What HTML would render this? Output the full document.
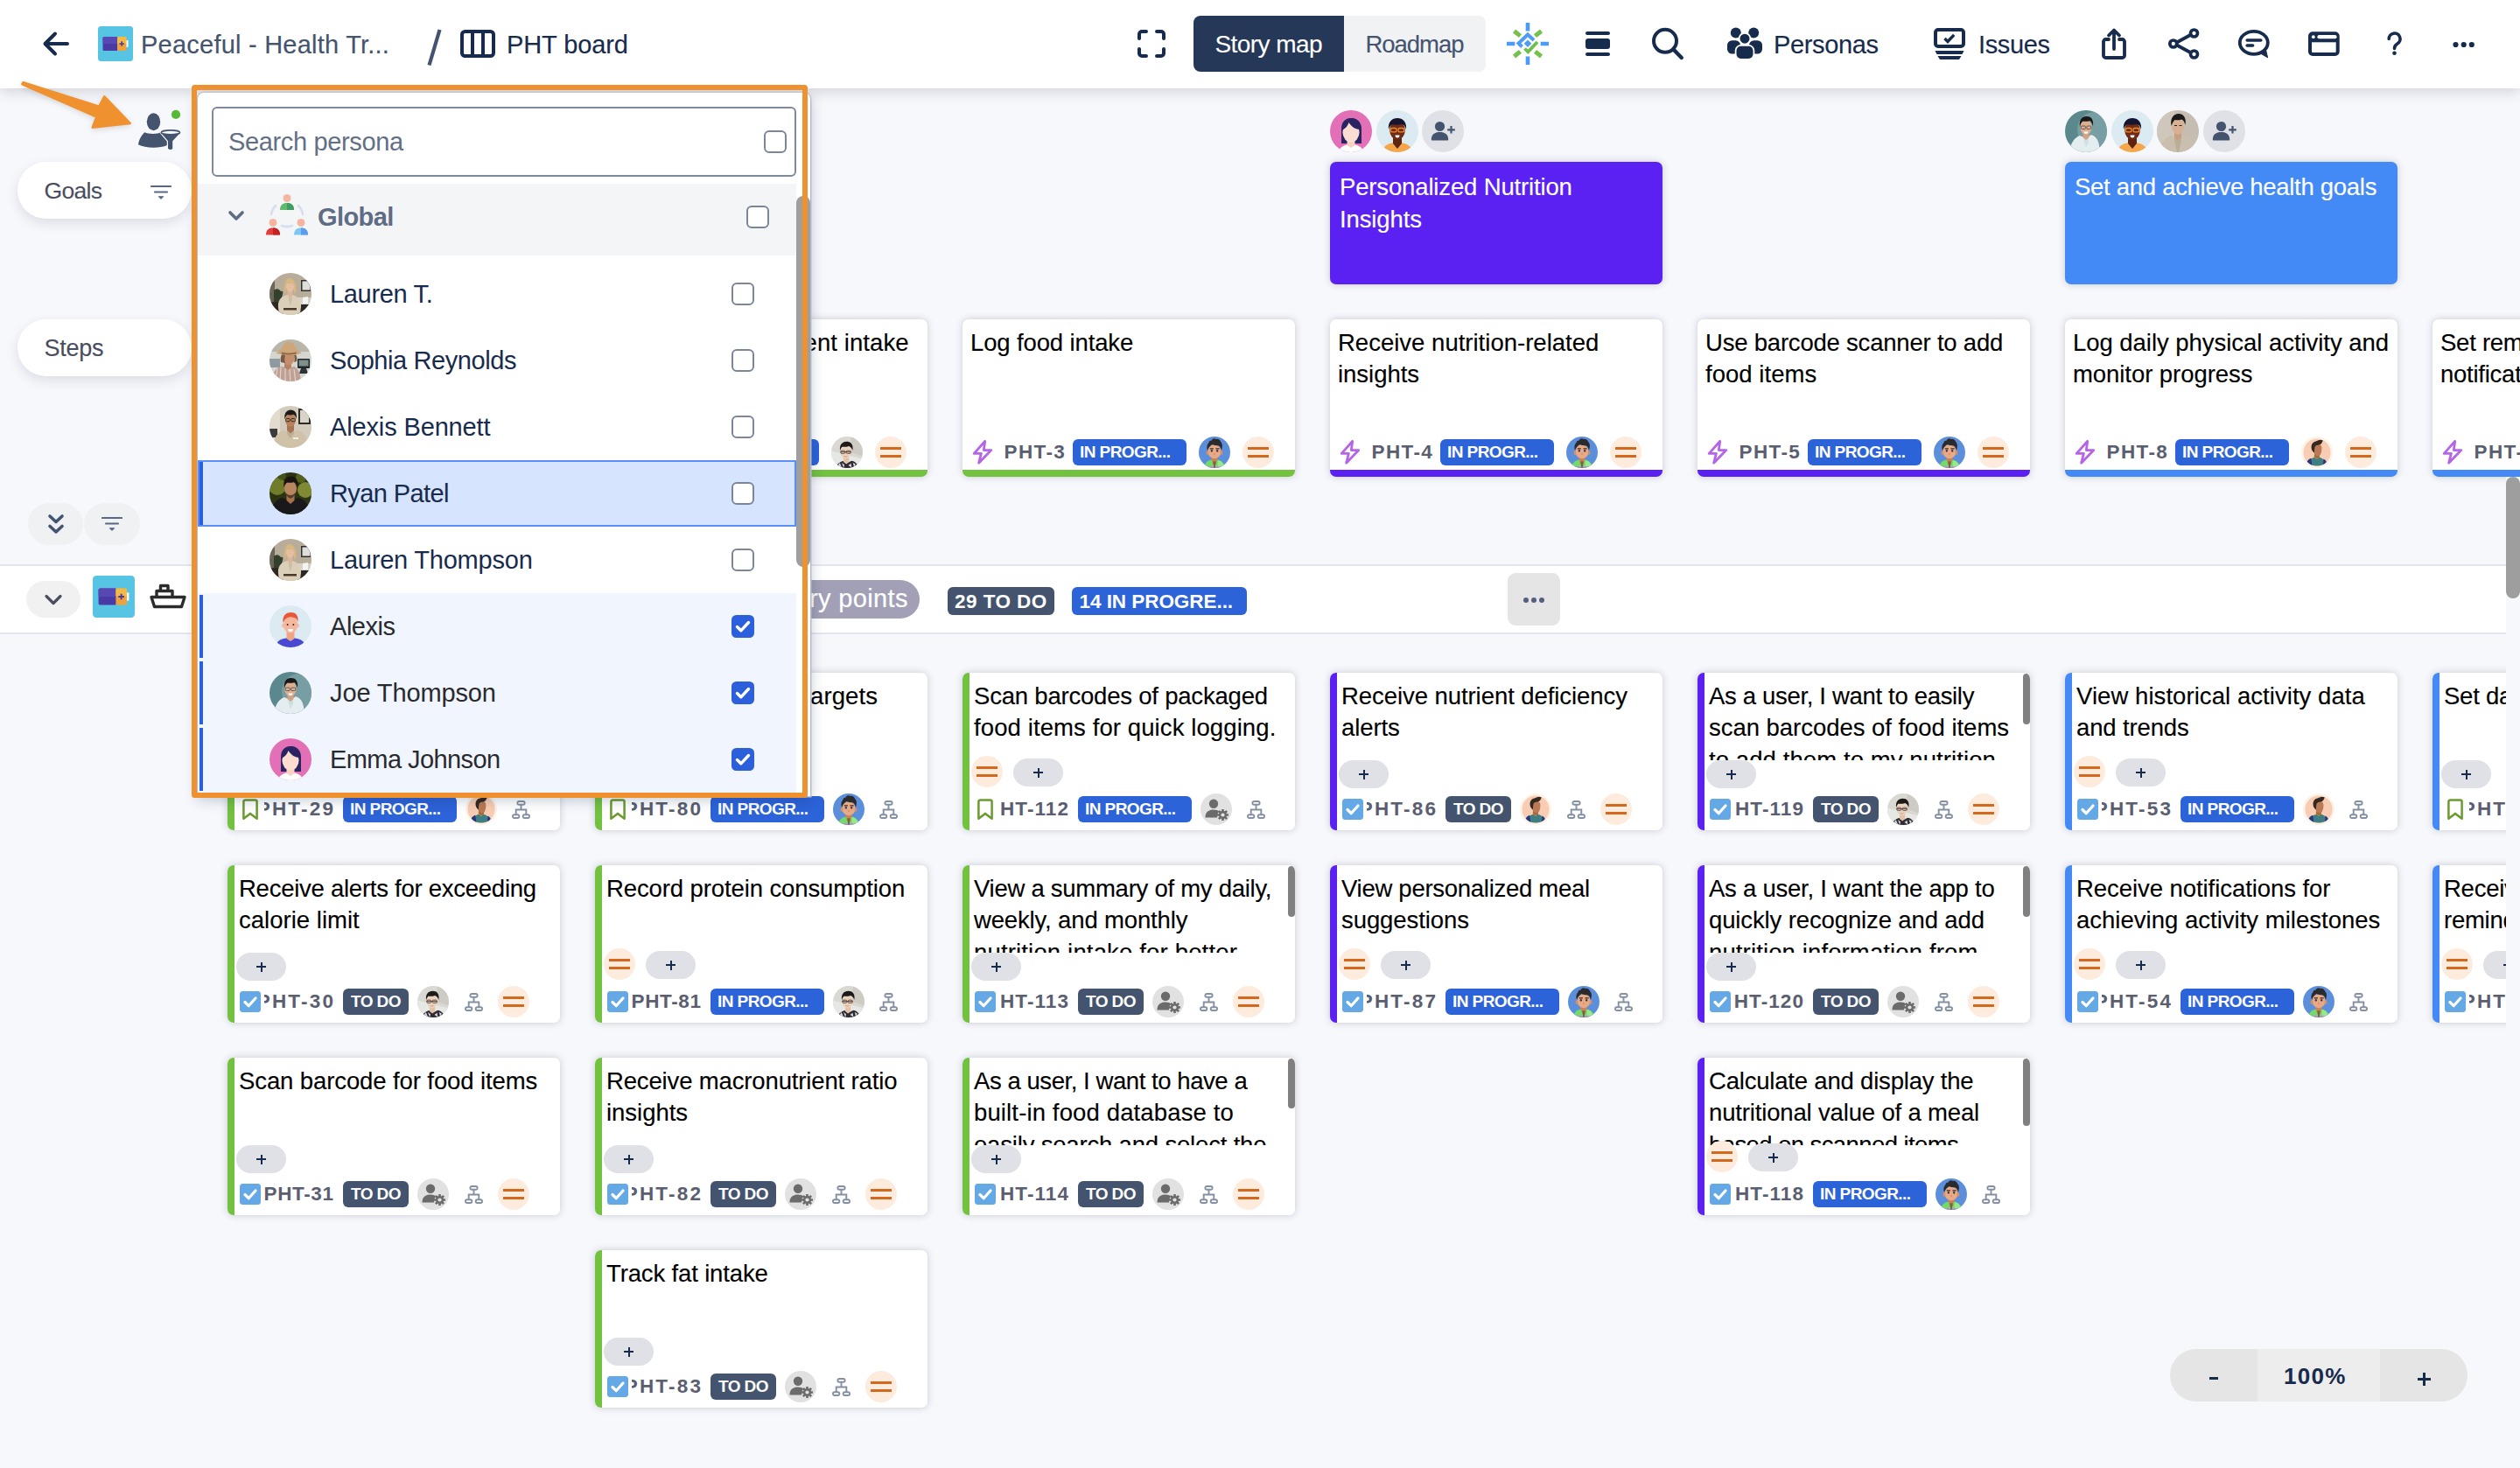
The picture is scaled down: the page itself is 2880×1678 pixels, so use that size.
<!DOCTYPE html>
<html lang="en"><head><meta charset="utf-8"><title>PHT board - Story map</title>
<style>
html,body{margin:0;padding:0}
body{width:2880px;height:1678px;overflow:hidden;position:relative;background:#F7F8FC;font-family:"Liberation Sans",sans-serif;color:#000}
.a{position:absolute}
.t{position:absolute;white-space:nowrap;line-height:1}
#hdr{position:absolute;left:0;top:0;width:2880px;height:101px;background:#fff;box-shadow:0 5px 14px rgba(20,20,40,.14)}
.card{position:absolute;width:380px;height:180px;background:#fff;border-radius:7px;box-shadow:0 0 8px rgba(35,35,60,.22);overflow:hidden}
.ctext{position:absolute;left:0;top:0;right:0;height:100px;overflow:hidden}
.ctext p{margin:0;position:absolute;top:10.5px;font-size:27.5px;line-height:36.7px;white-space:nowrap;color:#000;-webkit-text-stroke:.12px}
.bar-l{position:absolute;left:0;top:0;width:8px;height:100%}
.bar-b{position:absolute;left:0;bottom:0;height:8px;width:100%}
.key{position:absolute;overflow:hidden;height:30px}
.key span{position:absolute;right:0;top:2.2px;font-weight:700;font-size:22.5px;line-height:26px;color:#5A5E70;white-space:nowrap}
.badge{position:absolute;height:30px;border-radius:6px;color:#fff;font-weight:700;font-size:19px;line-height:30px;white-space:nowrap;overflow:hidden}
.todo{background:#44546F;width:75px}
.prog{background:#2D63D9;width:130px}
.pill{position:absolute;width:57px;height:32px;border-radius:16px;background:#DFE1E6}
.pill:before{content:"";position:absolute;left:23px;top:15px;width:11px;height:2px;background:#172B4D}
.pill:after{content:"";position:absolute;left:27.5px;top:10.5px;width:2px;height:11px;background:#172B4D}
.prio{position:absolute;width:36px;height:36px;border-radius:18px;background:#FDECDD}
.prio:before,.prio:after{content:"";position:absolute;left:6px;width:24px;height:3px;background:#D4691E}
.prio:before{top:12px}.prio:after{top:21px}
.thumb{position:absolute;right:0;top:1px;width:8px;border-radius:4px;background:#808080}
.av{position:absolute;border-radius:50%;overflow:hidden}
.cb{position:absolute;width:22px;height:22px;border:2px solid #7A869A;border-radius:6px;background:#fff}
.cbx{position:absolute;width:26px;height:26px;border-radius:6px;background:#2D63D9}
.row{position:absolute;left:225px;width:685px;height:76px}
.nm{position:absolute;left:152px;top:22px;font-size:28px;line-height:32px;white-space:nowrap}
</style></head>
<body>
<svg width="0" height="0" style="position:absolute"><defs>
<clipPath id="c48"><circle cx="24" cy="24" r="24"/></clipPath>
<!-- assignee avatars (48 box, scaled) -->
<symbol id="avA" viewBox="0 0 48 48"><g clip-path="url(#c48)"><rect width="48" height="48" fill="#D9D8D3"/><path d="M0 22l48 12v14H0z" fill="#E6E8E5"/><path d="M30 0h18v30L30 24z" fill="#C9C6BE" opacity=".7"/>
<path d="M6 48c3-7 8-10 14-11l5 3 6-3c5 1 9 4 11 11z" fill="#2E2B33"/><path d="M9 46l4-6 3 7zM16 40l4 3-1 5zM33 40l4 2-2 5zM26 44l4-3 1 6z" fill="#DCD9E2"/>
<path d="M18.500 31h8.500v7.500l-4 3.500-4.500-3.500z" fill="#E3C3A8"/><ellipse cx="22" cy="23.500" rx="8" ry="10" fill="#EBD2BC"/><ellipse cx="30.300" cy="24.500" rx="1.600" ry="2.600" fill="#E3C3A8"/>
<path d="M13.500 21.500c-1.500-9 3-14 10-14 6 0 10.500 4 9 13.500-1.500-3.500-3-5.500-5.500-6.500-4 1.500-8 1.500-10.500 1-1.500 1.500-2.500 3.500-3 6z" fill="#1D1A19"/>
<path d="M14 23.500h16" stroke="#5A4A44" stroke-width="1.300"/><rect x="14.500" y="21.500" width="6.500" height="4.300" rx="1.400" fill="none" stroke="#4A3D39" stroke-width="1.100"/><rect x="23" y="21.500" width="6.500" height="4.300" rx="1.400" fill="none" stroke="#4A3D39" stroke-width="1.100"/><path d="M19.500 30c1.500 1 3.500 1 5 0" stroke="#C98F80" stroke-width="1.200" fill="none"/></g></symbol>
<symbol id="avB" viewBox="0 0 48 48"><g clip-path="url(#c48)"><rect width="48" height="48" fill="#5C8FDB"/><path d="M8 52c0-11 4-17 16-17s16 6 16 17z" fill="#72DA68"/><path d="M29 36c5 1 9 4 10 12H29z" fill="#A6EE9A" opacity=".7"/><path d="M13 45.500h22v4H13z" fill="#C77BE6"/><path d="M21 34l3 2.500 3-2.500v6l-3 8-3-8z" fill="#B56A48"/><path d="M23.300 36h1.400v12h-1.400z" fill="#2F6B3A"/>
<path d="M19 29h10v7l-5 2-5-2z" fill="#C9825C"/><ellipse cx="24" cy="23" rx="10.300" ry="10.600" fill="#E7AA84"/><ellipse cx="13.300" cy="24.500" rx="1.900" ry="3" fill="#D98F66"/><ellipse cx="34.700" cy="24.500" rx="1.900" ry="3" fill="#D98F66"/>
<path d="M13.500 21c-2-4-1-9 2-12 0-2 2-3 4-3 1-3 5-4 7-2 3-1 6 1 7 4 3 3 3 8 1 13-1-4-2-6-4-7-4 0-8-1-10-2-3 2-6 5-7 9z" fill="#2B2A2D"/>
<path d="M17 18.500h5.500M26 18.500h5.500" stroke="#3A2A25" stroke-width="1.500"/><ellipse cx="19.800" cy="21.800" rx="1.500" ry="1.800" fill="#3B3440"/><ellipse cx="28.200" cy="21.800" rx="1.500" ry="1.800" fill="#3B3440"/><ellipse cx="24" cy="26.500" rx="1.500" ry="1" fill="#D98270"/></g></symbol>
<symbol id="avC" viewBox="0 0 48 48"><circle cx="24" cy="24" r="24" fill="#FDF3E8"/><circle cx="24" cy="24" r="20.800" fill="#F8CDB3"/><clipPath id="c48c"><circle cx="24" cy="24" r="20.800"/></clipPath><g clip-path="url(#c48c)">
<path d="M8 50c0-12 6-18 16-19 10 1 15 7 15 19z" fill="#3F7F84"/><path d="M7 48c0-9 3-13 8-15l2 15zM40 48c0-8-2-12-6-14l-1 14z" fill="#2A3580"/><path d="M18.500 29.500l5.500 5 4.500-5-2.500-1.500h-5z" fill="#E8B52E"/>
<path d="M20 24h8v7l-4 3-4-3z" fill="#A9693F"/><path d="M19 12c5-2 11-1 12 4 .5 3 0 6-.5 8l-1.500 4c-2 2-6 2-8 0-3-3-4-12-2-16z" fill="#B97A55"/>
<path d="M16 20c-2-7 1-12 7-13 3-1 6-3 10-1-1 3-2 5-4 6-3 1-6 1-8 3-1 3-1 6-1 9-2 0-3-2-4-4z" fill="#352820"/></g></symbol>
<symbol id="avD" viewBox="0 0 36 36"><circle cx="18" cy="18" r="18" fill="#E1E1E1"/><circle cx="15" cy="11.800" r="5.200" fill="#6B6B6B"/><path d="M5.500 27.500c0-6.500 4-9 9.500-9 3 0 5 .8 6.500 2.200-2 1.500-2.800 3.800-2.300 6.800z" fill="#6B6B6B"/><g fill="#6B6B6B"><circle cx="25.500" cy="24.500" r="4.600"/><g stroke="#6B6B6B" stroke-width="2.600" stroke-linecap="butt"><path d="M25.500 18v13M19 24.500h13M20.900 19.900l9.200 9.200M30.100 19.900l-9.200 9.200"/></g></g><circle cx="25.500" cy="24.500" r="2.100" fill="#E1E1E1"/></symbol>
<!-- persona avatars -->
<symbol id="pEmma" viewBox="0 0 48 48"><g clip-path="url(#c48)"><rect width="48" height="48" fill="#E36FB6"/><path d="M13 38V21c0-8 5-12 11-12s12 4 12 12v17z" fill="#2A2462"/><path d="M9 52c0-9 6-13 15-13s15 4 15 13z" fill="#fff"/><path d="M19.500 33h9v7l-4.500 3-4.500-3z" fill="#F7D2C4"/><ellipse cx="24" cy="25" rx="9.600" ry="11.500" fill="#FBDDD1"/><path d="M13.500 23c0-9 5-14 11-14 7 0 11 5 10 13-5 0-10-3-13-8-1 4-4 7-8 9z" fill="#2A2462"/></g></symbol>
<symbol id="pGls" viewBox="0 0 48 48"><g clip-path="url(#c48)"><rect width="48" height="48" fill="#DCEAF1"/><path d="M6 52c0-11 7-15 18-15s18 4 18 15z" fill="#F5A64A"/><path d="M19 31h10v7l-5 6-5-6z" fill="#5E2412"/><ellipse cx="24" cy="23" rx="8.800" ry="10.500" fill="#6E2C16"/><path d="M14 22c-1-9 4-13 10-13s11 4 10 13c-1-4-3-6-5-6-4 1-8 1-10 0-3 1-4 3-5 6z" fill="#15152F"/><rect x="16.500" y="20.500" width="6.500" height="4.300" rx="1.300" fill="none" stroke="#F08A2A" stroke-width="1.300"/><rect x="25" y="20.500" width="6.500" height="4.300" rx="1.300" fill="none" stroke="#F08A2A" stroke-width="1.300"/><path d="M21.500 28.500h5c0 2-1 3-2.500 3s-2.500-1-2.500-3z" fill="#fff"/></g></symbol>
<symbol id="pAdd" viewBox="0 0 48 48"><circle cx="24" cy="24" r="24" fill="#DFE1E6"/><circle cx="20.500" cy="18.500" r="5.600" fill="#44546F"/><path d="M10.800 33.500c0-6 4-8.600 9.700-8.600s9.700 2.600 9.700 8.600c0 .6-.4 1-1 1H11.800c-.6 0-1-.4-1-1z" fill="#44546F"/><path d="M33.500 18v8.600M29.200 22.300h8.600" stroke="#44546F" stroke-width="2.200"/></symbol>
<symbol id="pJoe" viewBox="0 0 48 48"><g clip-path="url(#c48)"><rect width="48" height="48" fill="#5B888C"/><circle cx="34" cy="22" r="20" fill="#8AAEB1" opacity=".6"/><path d="M5 52c0-14 6-21 12-23l7 3 6-4c7 2 10 9 10 24z" fill="#E4EEF0"/><path d="M21 29l3 3 3-3.500v8l-3 6-2-6z" fill="#CFE0E4"/><path d="M20.500 25h7v6l-3.500 3-3.500-3z" fill="#D3A183"/><ellipse cx="24" cy="19.500" rx="6.600" ry="8.600" fill="#DDAE90"/>
<path d="M17 19c-1-8 2-12 7.500-12 5 0 8.500 3 7.500 11-1-3-2-5-3.500-6-3 1-6 1-8 .5-2 1.500-3 3.500-3.500 6.500z" fill="#1A1918"/><rect x="18.400" y="18" width="5" height="3.500" rx="1.100" fill="none" stroke="#4A4A4A" stroke-width=".8"/><rect x="24.800" y="18" width="5" height="3.500" rx="1.100" fill="none" stroke="#4A4A4A" stroke-width=".8"/><path d="M21.500 24.500h5c0 1.500-1 2.300-2.500 2.300s-2.500-.8-2.500-2.300z" fill="#fff"/></g></symbol>
<symbol id="pBge" viewBox="0 0 48 48"><g clip-path="url(#c48)"><rect width="48" height="48" fill="#C5BDB1"/><path d="M0 0h20v48H0z" fill="#D3CCC1" opacity=".7"/><path d="M2 52c0-13 6-20 14-23l8 4 7-4c9 3 15 10 15 23z" fill="#CABFAE"/><path d="M20 30l4 4 4-4v5l-3 13h-2l-3-13z" fill="#BBAF9C"/><path d="M20 25h8v6l-4 4-4-4z" fill="#C99F82"/><ellipse cx="24" cy="18.500" rx="7" ry="9.200" fill="#D8B094"/>
<path d="M16.500 18c-1.500-9 2.500-14 8.500-14 5 0 9 4 7.500 13-1-3.500-2-5.500-4-6.500-3 1-6 1-8 .5-2 2-3 4-4 7z" fill="#1B1A1A"/><path d="M20 17.500h3M25.500 17.500h3" stroke="#2A2220" stroke-width="1"/></g></symbol>
<symbol id="pLau" viewBox="0 0 48 48"><g clip-path="url(#c48)"><rect width="48" height="48" fill="#B8AD9B"/><rect x="0" y="0" width="6" height="48" fill="#6B665A"/><path d="M5 20c3-3 6-2 8 1 2-1 3 1 2 3l-2 10H5z" fill="#33402B"/><rect x="36" y="8" width="11" height="13" fill="#2F3033"/><rect x="37.500" y="9.500" width="9" height="10" fill="#DEDEDB"/><path d="M32 28h16v10H32z" fill="#D5D3CE"/><path d="M38 28l6-1v8h-6z" fill="#F4F4F2"/><path d="M0 34c8-2 12-1 16 2v12H0zM32 36h16v12H32z" fill="#2B2724"/>
<path d="M11 48c0-6-3-12 1-18 2-3 6-5 11-5s9 2 11 5c4 6 1 12 1 18z" fill="#DCCFB8"/><path d="M21 25l2.500 3 2.500-3v5l-2.500 8z" fill="#CDBFA7"/><path d="M16 40h15v2.500H16z" fill="#4B3A2C"/><path d="M20.500 20h6v5l-3 2.500-3-2.500z" fill="#DDB498"/><ellipse cx="23.500" cy="15.500" rx="4.600" ry="6" fill="#E6BFA3"/>
<path d="M17.500 24c-1.500-4-1-9 0-12 1-4 3.500-6 6-6s5 2 6 6c1 3 1.500 8 0 12-1-1-1.500-2-1.500-4 0-3 0-6-1-8-2 .5-5 .5-7 0-1 2-1 5-1 8 0 2-.5 3-1.500 4z" fill="#D7B682"/></g></symbol>
<symbol id="pSop" viewBox="0 0 48 48"><g clip-path="url(#c48)"><rect width="48" height="48" fill="#D5D6D0"/><path d="M0 0h48v14H0z" fill="#B9B5A8"/><path d="M0 22h12v10H0z" fill="#8F9AA0"/><rect x="32" y="22" width="14" height="11" rx="1" fill="#23282D"/><rect x="33.500" y="23.500" width="11" height="7" fill="#7E8F8A"/><path d="M36 33h6l2 6h-10z" fill="#2E3135"/>
<path d="M2 52c0-12 4-19 12-21l8 2 6-2c5 2 8 9 8 21z" fill="#BFA094"/><path d="M6 50l3-16M12 50l1-18M18 50V33M24 50l-1-17M30 50l-2-16" stroke="#E3D2C9" stroke-width="1.200"/><path d="M17 26h8v6l-4 3-4-3z" fill="#B98263"/><ellipse cx="22" cy="21" rx="6.600" ry="8" fill="#C48F6F"/>
<path d="M13 26c-1-4 0-8 2-10l3 2c-1 3-1 6 0 9zM31 25c1-3 0-6-1-8l-2 1c1 3 1 5 0 8z" fill="#7A5A44"/><path d="M7 15.500c3-1 6-3 8-8 1-3 4-4.500 7-4.500s6 1.500 7.500 5c1.500 4 4 6 7.500 7.500-8 3-23 3-30 0z" fill="#CDA67A"/><path d="M14 14.500c4 1.500 12 1.500 16.500 0l.5 1.800c-5 1.500-13 1.500-17.500 0z" fill="#8A6846"/></g></symbol>
<symbol id="pAxb" viewBox="0 0 48 48"><g clip-path="url(#c48)"><rect width="48" height="48" fill="#D3CBBB"/><rect x="0" y="0" width="12" height="48" fill="#E2DCCF"/><rect x="33" y="3" width="14" height="18" fill="#2E2B28"/><rect x="35" y="5" width="10" height="14" fill="#D9D4C8"/><path d="M0 26h9v10H0z" fill="#3B3B3E"/>
<path d="M4 52c0-14 4-22 12-24l8 3 8-3c9 2 13 10 13 24z" fill="#D0C2A9"/><path d="M20 28l4 3.500 4-3.500v4l-4 5-4-5z" fill="#BDAE94"/><path d="M27 36h6v2h-6z" fill="#F2F0EA"/><path d="M20 22h8v6l-4 3.500-4-3.500z" fill="#A57555"/><ellipse cx="24" cy="16" rx="6" ry="7.800" fill="#B5835F"/>
<path d="M17.500 15.500c-1.200-7 2-11 6.800-11 4.500 0 7.700 3.500 6.400 10.500-.8-3-1.800-4.500-3.200-5.200-2.600.8-5.200.8-7 .3-1.600 1.200-2.400 3-3 5.400z" fill="#1E1A17"/><rect x="18.600" y="14.500" width="4.600" height="3.200" rx="1" fill="none" stroke="#2A2522" stroke-width=".9"/><rect x="24.800" y="14.500" width="4.600" height="3.200" rx="1" fill="none" stroke="#2A2522" stroke-width=".9"/></g></symbol>
<symbol id="pRyn" viewBox="0 0 48 48"><g clip-path="url(#c48)"><rect width="48" height="48" fill="#2C3312"/><circle cx="9" cy="16" r="10" fill="#7C8A2E" opacity=".85"/><circle cx="41" cy="20" r="9" fill="#8E9A38" opacity=".85"/><circle cx="36" cy="6" r="6" fill="#5E6C22" opacity=".8"/><circle cx="14" cy="4" r="5" fill="#4A5A1C" opacity=".8"/>
<path d="M1 52c0-15 6-21 14-23l9 4 8-4c9 2 15 8 15 23z" fill="#19191B"/><path d="M19.500 26h9v6l-4.500 4-4.500-4z" fill="#A8714E"/><ellipse cx="24" cy="18.500" rx="7" ry="9" fill="#B98660"/>
<path d="M16.500 17.500c-1.500-8 2.500-13 8-13 5 0 9 4 7.500 12.500-1-3.500-2-5-4-6-3 1-6 1-8 .5-2 1.500-3 3.500-3.500 6z" fill="#1A1512"/><path d="M18.500 22c1 5 3 7.500 5.500 7.500s4.500-2.500 5.500-7.500c-1 3-3 4-5.500 4s-4.500-1-5.500-4z" fill="#3A2A20" opacity=".75"/></g></symbol>
<symbol id="pAlx" viewBox="0 0 48 48"><g clip-path="url(#c48)"><rect width="48" height="48" fill="#DCEAF1"/><path d="M5 54c0-12 7-17 19-17s19 5 19 17z" fill="#4848D4"/><path d="M19.500 30h9v8l-4.500 3-4.500-3z" fill="#EFA687"/><ellipse cx="24" cy="22" rx="8.200" ry="10" fill="#F5B89C"/><ellipse cx="15.600" cy="23" rx="1.500" ry="2.300" fill="#F5B89C"/><ellipse cx="32.400" cy="23" rx="1.500" ry="2.300" fill="#F5B89C"/><path d="M15.500 20c-1-8 3-12 9-12 5 0 9 3 8 11-1-3-2-4-4-5-3-1-6-1-8 0-2 1-4 3-5 6z" fill="#E9573A"/><circle cx="20.600" cy="22" r="1" fill="#3A2A2A"/><circle cx="27.400" cy="22" r="1" fill="#3A2A2A"/><path d="M21 27h6c0 2-1.300 3-3 3s-3-1-3-3z" fill="#fff"/></g></symbol>
<!-- icons -->
<symbol id="iEpic" viewBox="0 0 24 28"><path d="M14.500 2.500L3 15.500h7.500L8 25.500 21 12h-7.800z" fill="none" stroke="#B465E8" stroke-width="2.600" stroke-linejoin="round"/></symbol>
<symbol id="iStory" viewBox="0 0 18 24.5"><path d="M1.400 3.400a2 2 0 0 1 2-2h11.200a2 2 0 0 1 2 2v19.300l-7.600-5.800-7.600 5.800z" fill="none" stroke="#6B9A2D" stroke-width="2.500" stroke-linejoin="round"/></symbol>
<symbol id="iTask" viewBox="0 0 24 24"><rect width="24" height="24" rx="3.500" fill="#64A9E6"/><path d="M6 12.500l4.200 4.200L18 8" fill="none" stroke="#fff" stroke-width="3.200" stroke-linecap="round" stroke-linejoin="round"/></symbol>
<symbol id="iHier" viewBox="0 0 21 21"><g fill="none" stroke="#8590A2" stroke-width="1.900"><rect x="6.400" y="1" width="8.200" height="3.700" rx="1.800"/><rect x="1" y="16.300" width="7.300" height="3.700" rx="1.800"/><rect x="12.700" y="16.300" width="7.300" height="3.700" rx="1.800"/><path d="M10.500 4.700v5.800M4.700 16.300v-5.800h11.600v5.800"/></g></symbol>
<symbol id="iFilter" viewBox="0 0 24 18"><path d="M1 2h22M5 8.500h14" stroke="#5A6781" stroke-width="2.200" stroke-linecap="round"/><path d="M9.300 13.700h5.400l-2.700 2.700z" fill="#5A6781" stroke="#5A6781" stroke-width="1" stroke-linejoin="round"/></symbol>
</defs></svg>

<!-- ===== board ===== -->
<div id="board">
<svg class="a" style="left:1520px;top:126px" width="48" height="48"><use href="#pEmma"/></svg><svg class="a" style="left:1573px;top:126px" width="48" height="48"><use href="#pGls"/></svg><svg class="a" style="left:1625px;top:126px" width="48" height="48"><use href="#pAdd"/></svg><svg class="a" style="left:2360px;top:126px" width="48" height="48"><use href="#pJoe"/></svg><svg class="a" style="left:2413px;top:126px" width="48" height="48"><use href="#pGls"/></svg><svg class="a" style="left:2465px;top:126px" width="48" height="48"><use href="#pBge"/></svg><svg class="a" style="left:2518px;top:126px" width="48" height="48"><use href="#pAdd"/></svg>
<div class="card" style="left:1520px;top:185px;height:140px;background:#5B21F2;border-radius:7px"><div class="ctext" style="height:140px"><p style="left:11px;top:11px;color:#fff"><span style="letter-spacing:-0.149px">Personalized Nutrition</span><br><span style="letter-spacing:-0.125px">Insights</span></p></div></div>
<div class="card" style="left:2360px;top:185px;height:140px;background:#448AF7;border-radius:7px"><div class="ctext" style="height:140px"><p style="left:11px;top:11px;color:#fff"><span style="letter-spacing:-0.288px">Set and achieve health goals</span></p></div></div>
<div class="card" style="left:680px;top:365px"><div class="ctext" style="height:130px"><p style="left:238.5px;top:8.6px;color:#000"><span style="letter-spacing:0.1px">ent intake</span></p></div><svg class="a" style="left:9.5px;top:136px" width="26" height="31.5"><use href="#iEpic"/></svg><div class="key" style="left:44px;top:137px;width:76px"><span style="letter-spacing:1.4px;right:auto;left:3.5px">PHT-2</span></div><div class="badge prog" style="left:126px;top:137px"><span style="margin-left:8px;letter-spacing:-.58px">IN PROGR...</span></div><svg class="a" style="left:270px;top:134px" width="36" height="36"><use href="#avA"/></svg><div class="prio" style="left:320px;top:134px"></div><div class="bar-b" style="background:#72C13F"></div></div>
<div class="card" style="left:1100px;top:365px"><div class="ctext" style="height:130px"><p style="left:9px;top:8.6px;color:#000"><span style="letter-spacing:-0.133px">Log food intake</span></p></div><svg class="a" style="left:9.5px;top:136px" width="26" height="31.5"><use href="#iEpic"/></svg><div class="key" style="left:44px;top:137px;width:76px"><span style="letter-spacing:1.4px;right:auto;left:3.5px">PHT-3</span></div><div class="badge prog" style="left:126px;top:137px"><span style="margin-left:8px;letter-spacing:-.58px">IN PROGR...</span></div><svg class="a" style="left:270px;top:134px" width="36" height="36"><use href="#avB"/></svg><div class="prio" style="left:320px;top:134px"></div><div class="bar-b" style="background:#72C13F"></div></div>
<div class="card" style="left:1520px;top:365px"><div class="ctext" style="height:130px"><p style="left:9px;top:8.6px;color:#000"><span style="letter-spacing:0.01px">Receive nutrition-related</span><br><span style="letter-spacing:-0.034px">insights</span></p></div><svg class="a" style="left:9.5px;top:136px" width="26" height="31.5"><use href="#iEpic"/></svg><div class="key" style="left:44px;top:137px;width:76px"><span style="letter-spacing:1.4px;right:auto;left:3.5px">PHT-4</span></div><div class="badge prog" style="left:126px;top:137px"><span style="margin-left:8px;letter-spacing:-.58px">IN PROGR...</span></div><svg class="a" style="left:270px;top:134px" width="36" height="36"><use href="#avB"/></svg><div class="prio" style="left:320px;top:134px"></div><div class="bar-b" style="background:#5B21F2"></div></div>
<div class="card" style="left:1940px;top:365px"><div class="ctext" style="height:130px"><p style="left:9px;top:8.6px;color:#000"><span style="letter-spacing:-0.208px">Use barcode scanner to add</span><br><span style="letter-spacing:0.037px">food items</span></p></div><svg class="a" style="left:9.5px;top:136px" width="26" height="31.5"><use href="#iEpic"/></svg><div class="key" style="left:44px;top:137px;width:76px"><span style="letter-spacing:1.4px;right:auto;left:3.5px">PHT-5</span></div><div class="badge prog" style="left:126px;top:137px"><span style="margin-left:8px;letter-spacing:-.58px">IN PROGR...</span></div><svg class="a" style="left:270px;top:134px" width="36" height="36"><use href="#avB"/></svg><div class="prio" style="left:320px;top:134px"></div><div class="bar-b" style="background:#5B21F2"></div></div>
<div class="card" style="left:2360px;top:365px"><div class="ctext" style="height:130px"><p style="left:9px;top:8.6px;color:#000"><span style="letter-spacing:-0.042px">Log daily physical activity and</span><br><span style="letter-spacing:-0.062px">monitor progress</span></p></div><svg class="a" style="left:9.5px;top:136px" width="26" height="31.5"><use href="#iEpic"/></svg><div class="key" style="left:44px;top:137px;width:76px"><span style="letter-spacing:1.4px;right:auto;left:3.5px">PHT-8</span></div><div class="badge prog" style="left:126px;top:137px"><span style="margin-left:8px;letter-spacing:-.58px">IN PROGR...</span></div><svg class="a" style="left:270px;top:134px" width="36" height="36"><use href="#avC"/></svg><div class="prio" style="left:320px;top:134px"></div><div class="bar-b" style="background:#448AF7"></div></div>
<div class="card" style="left:2780px;top:365px"><div class="ctext" style="height:130px"><p style="left:9px;top:8.6px;color:#000"><span style="letter-spacing:-0.25px">Set reminders and</span><br><span style="letter-spacing:-0.25px">notifications</span></p></div><svg class="a" style="left:9.5px;top:136px" width="26" height="31.5"><use href="#iEpic"/></svg><div class="key" style="left:44px;top:137px;width:76px"><span style="letter-spacing:1.4px;right:auto;left:3.5px">PHT-9</span></div><div class="badge prog" style="left:126px;top:137px"><span style="margin-left:8px;letter-spacing:-.58px">IN PROGR...</span></div><svg class="a" style="left:270px;top:134px" width="36" height="36"><use href="#avC"/></svg><div class="prio" style="left:320px;top:134px"></div><div class="bar-b" style="background:#448AF7"></div></div>
<div class="a" style="left:0;top:645px;width:2880px;height:76px;background:#fff;border-top:2px solid #E2E6EE;border-bottom:2px solid #E2E6EE"></div>
<div class="a" style="left:700px;top:663px;width:351px;height:44px;border-radius:22px;background:#A1A0B7"></div><div class="t" style="left:925px;top:668px;font-size:29px;line-height:33px;color:#fff;letter-spacing:.35px;-webkit-text-stroke:.2px">ry points</div>
<div class="badge" style="left:1083px;top:671px;width:122px;height:32px;line-height:33.600px;font-size:22.500px;background:#44546F"><span style="margin-left:8px;letter-spacing:.45px">29 TO DO</span></div><div class="badge" style="left:1225px;top:671px;width:200px;height:32px;line-height:33.600px;font-size:22.500px;background:#2D63D9"><span style="margin-left:8.500px;letter-spacing:-.05px">14 IN PROGRE...</span></div>
<div class="a" style="left:1723px;top:655px;width:60px;height:60px;border-radius:9px;background:#E5E5E5"></div><svg class="a" style="left:1738px;top:679px" width="30" height="14"><g fill="#556080"><circle cx="6" cy="7" r="3"/><circle cx="15" cy="7" r="3"/><circle cx="24" cy="7" r="3"/></g></svg>
<div class="card" style="left:260px;top:769px"><div class="bar-l" style="background:#72C13F"></div><div class="ctext"><p style="left:13px;top:8.6px;color:#000"><span style="letter-spacing:-0.25px">Set daily calorie intake goal</span></p></div><div class="pill" style="left:10px;top:100px"></div><svg class="a" style="left:17px;top:143.6px" width="18" height="24.5"><use href="#iStory"/></svg><div class="key" style="left:42px;top:141px;width:79px"><span style="letter-spacing:2.2px;margin-right:-2.2px">PHT-29</span></div><div class="badge prog" style="left:132px;top:141px"><span style="margin-left:8px;letter-spacing:-.58px">IN PROGR...</span></div><svg class="a" style="left:272px;top:138px" width="36" height="36"><use href="#avC"/></svg><svg class="a" style="left:325px;top:145.5px" width="21" height="21"><use href="#iHier"/></svg></div>
<div class="card" style="left:680px;top:769px"><div class="bar-l" style="background:#72C13F"></div><div class="ctext"><p style="left:246px;top:8.6px;color:#000"><span style="letter-spacing:0.1px">argets</span></p></div><div class="pill" style="left:10px;top:100px"></div><svg class="a" style="left:17px;top:143.6px" width="18" height="24.5"><use href="#iStory"/></svg><div class="key" style="left:42px;top:141px;width:79px"><span style="letter-spacing:2.2px;margin-right:-2.2px">PHT-80</span></div><div class="badge prog" style="left:132px;top:141px"><span style="margin-left:8px;letter-spacing:-.58px">IN PROGR...</span></div><svg class="a" style="left:272px;top:138px" width="36" height="36"><use href="#avB"/></svg><svg class="a" style="left:325px;top:145.5px" width="21" height="21"><use href="#iHier"/></svg></div>
<div class="card" style="left:1100px;top:769px"><div class="bar-l" style="background:#72C13F"></div><div class="ctext"><p style="left:13px;top:8.6px;color:#000"><span style="letter-spacing:-0.205px">Scan barcodes of packaged</span><br><span style="letter-spacing:0.103px">food items for quick logging.</span></p></div><div class="prio" style="left:10px;top:95px"></div><div class="pill" style="left:58px;top:98px"></div><svg class="a" style="left:17px;top:143.6px" width="18" height="24.5"><use href="#iStory"/></svg><div class="key" style="left:42px;top:141px;width:79px"><span style="letter-spacing:1.1px;margin-right:-1.1px">HT-112</span></div><div class="badge prog" style="left:132px;top:141px"><span style="margin-left:8px;letter-spacing:-.58px">IN PROGR...</span></div><svg class="a" style="left:272px;top:138px" width="36" height="36"><use href="#avD"/></svg><svg class="a" style="left:325px;top:145.5px" width="21" height="21"><use href="#iHier"/></svg></div>
<div class="card" style="left:1520px;top:769px"><div class="bar-l" style="background:#5B21F2"></div><div class="ctext"><p style="left:13px;top:8.6px;color:#000"><span style="letter-spacing:-0.063px">Receive nutrient deficiency</span><br><span style="letter-spacing:-0.089px">alerts</span></p></div><div class="pill" style="left:10px;top:100px"></div><svg class="a" style="left:14px;top:144px" width="24" height="24"><use href="#iTask"/></svg><div class="key" style="left:42px;top:141px;width:79px"><span style="letter-spacing:2.2px;margin-right:-2.2px">PHT-86</span></div><div class="badge todo" style="left:132px;top:141px"><span style="margin-left:9px;letter-spacing:-.6px">TO DO</span></div><svg class="a" style="left:217px;top:138px" width="36" height="36"><use href="#avC"/></svg><svg class="a" style="left:271px;top:145.5px" width="21" height="21"><use href="#iHier"/></svg><div class="prio" style="left:309px;top:138px"></div></div>
<div class="card" style="left:1940px;top:769px"><div class="bar-l" style="background:#5B21F2"></div><div class="ctext"><p style="left:13px;top:8.6px;color:#000"><span style="letter-spacing:-0.324px">As a user, I want to easily</span><br><span style="letter-spacing:-0.036px">scan barcodes of food items</span><br><span style="letter-spacing:0.089px">to add them to my nutrition</span></p><div class="thumb" style="height:58px"></div></div><div class="pill" style="left:10px;top:100px"></div><svg class="a" style="left:14px;top:144px" width="24" height="24"><use href="#iTask"/></svg><div class="key" style="left:42px;top:141px;width:79px"><span style="letter-spacing:1.1px;margin-right:-1.1px">HT-119</span></div><div class="badge todo" style="left:132px;top:141px"><span style="margin-left:9px;letter-spacing:-.6px">TO DO</span></div><svg class="a" style="left:217px;top:138px" width="36" height="36"><use href="#avA"/></svg><svg class="a" style="left:271px;top:145.5px" width="21" height="21"><use href="#iHier"/></svg><div class="prio" style="left:309px;top:138px"></div></div>
<div class="card" style="left:2360px;top:769px"><div class="bar-l" style="background:#448AF7"></div><div class="ctext"><p style="left:13px;top:8.6px;color:#000"><span style="letter-spacing:0.061px">View historical activity data</span><br><span style="letter-spacing:-0.139px">and trends</span></p></div><div class="prio" style="left:10px;top:95px"></div><div class="pill" style="left:58px;top:98px"></div><svg class="a" style="left:14px;top:144px" width="24" height="24"><use href="#iTask"/></svg><div class="key" style="left:42px;top:141px;width:79px"><span style="letter-spacing:2.2px;margin-right:-2.2px">PHT-53</span></div><div class="badge prog" style="left:132px;top:141px"><span style="margin-left:8px;letter-spacing:-.58px">IN PROGR...</span></div><svg class="a" style="left:272px;top:138px" width="36" height="36"><use href="#avC"/></svg><svg class="a" style="left:325px;top:145.5px" width="21" height="21"><use href="#iHier"/></svg></div>
<div class="card" style="left:2780px;top:769px"><div class="bar-l" style="background:#448AF7"></div><div class="ctext"><p style="left:13px;top:8.6px;color:#000"><span style="letter-spacing:-0.25px">Set daily activity goals</span></p></div><div class="pill" style="left:10px;top:100px"></div><svg class="a" style="left:17px;top:143.6px" width="18" height="24.5"><use href="#iStory"/></svg><div class="key" style="left:42px;top:141px;width:79px"><span style="letter-spacing:2.2px;margin-right:-2.2px">PHT-55</span></div><div class="badge todo" style="left:132px;top:141px"><span style="margin-left:9px;letter-spacing:-.6px">TO DO</span></div><svg class="a" style="left:217px;top:138px" width="36" height="36"><use href="#avD"/></svg><svg class="a" style="left:271px;top:145.5px" width="21" height="21"><use href="#iHier"/></svg></div>
<div class="card" style="left:260px;top:989px"><div class="bar-l" style="background:#72C13F"></div><div class="ctext"><p style="left:13px;top:8.6px;color:#000"><span style="letter-spacing:-0.255px">Receive alerts for exceeding</span><br><span style="letter-spacing:0.015px">calorie limit</span></p></div><div class="pill" style="left:10px;top:100px"></div><svg class="a" style="left:14px;top:144px" width="24" height="24"><use href="#iTask"/></svg><div class="key" style="left:42px;top:141px;width:79px"><span style="letter-spacing:2.2px;margin-right:-2.2px">PHT-30</span></div><div class="badge todo" style="left:132px;top:141px"><span style="margin-left:9px;letter-spacing:-.6px">TO DO</span></div><svg class="a" style="left:217px;top:138px" width="36" height="36"><use href="#avA"/></svg><svg class="a" style="left:271px;top:145.5px" width="21" height="21"><use href="#iHier"/></svg><div class="prio" style="left:309px;top:138px"></div></div>
<div class="card" style="left:680px;top:989px"><div class="bar-l" style="background:#72C13F"></div><div class="ctext"><p style="left:13px;top:8.6px;color:#000"><span style="letter-spacing:-0.105px">Record protein consumption</span></p></div><div class="prio" style="left:10px;top:95px"></div><div class="pill" style="left:58px;top:98px"></div><svg class="a" style="left:14px;top:144px" width="24" height="24"><use href="#iTask"/></svg><div class="key" style="left:42px;top:141px;width:79px"><span style="letter-spacing:0.64px;margin-right:-0.64px">PHT-81</span></div><div class="badge prog" style="left:132px;top:141px"><span style="margin-left:8px;letter-spacing:-.58px">IN PROGR...</span></div><svg class="a" style="left:272px;top:138px" width="36" height="36"><use href="#avA"/></svg><svg class="a" style="left:325px;top:145.5px" width="21" height="21"><use href="#iHier"/></svg></div>
<div class="card" style="left:1100px;top:989px"><div class="bar-l" style="background:#72C13F"></div><div class="ctext"><p style="left:13px;top:8.6px;color:#000"><span style="letter-spacing:-0.266px">View a summary of my daily,</span><br><span style="letter-spacing:-0.15px">weekly, and monthly</span><br><span style="letter-spacing:0.164px">nutrition intake for better</span></p><div class="thumb" style="height:58px"></div></div><div class="pill" style="left:10px;top:100px"></div><svg class="a" style="left:14px;top:144px" width="24" height="24"><use href="#iTask"/></svg><div class="key" style="left:42px;top:141px;width:79px"><span style="letter-spacing:1.1px;margin-right:-1.1px">HT-113</span></div><div class="badge todo" style="left:132px;top:141px"><span style="margin-left:9px;letter-spacing:-.6px">TO DO</span></div><svg class="a" style="left:217px;top:138px" width="36" height="36"><use href="#avD"/></svg><svg class="a" style="left:271px;top:145.5px" width="21" height="21"><use href="#iHier"/></svg><div class="prio" style="left:309px;top:138px"></div></div>
<div class="card" style="left:1520px;top:989px"><div class="bar-l" style="background:#5B21F2"></div><div class="ctext"><p style="left:13px;top:8.6px;color:#000"><span style="letter-spacing:-0.277px">View personalized meal</span><br><span style="letter-spacing:-0.076px">suggestions</span></p></div><div class="prio" style="left:10px;top:95px"></div><div class="pill" style="left:58px;top:98px"></div><svg class="a" style="left:14px;top:144px" width="24" height="24"><use href="#iTask"/></svg><div class="key" style="left:42px;top:141px;width:79px"><span style="letter-spacing:2.2px;margin-right:-2.2px">PHT-87</span></div><div class="badge prog" style="left:132px;top:141px"><span style="margin-left:8px;letter-spacing:-.58px">IN PROGR...</span></div><svg class="a" style="left:272px;top:138px" width="36" height="36"><use href="#avB"/></svg><svg class="a" style="left:325px;top:145.5px" width="21" height="21"><use href="#iHier"/></svg></div>
<div class="card" style="left:1940px;top:989px"><div class="bar-l" style="background:#5B21F2"></div><div class="ctext"><p style="left:13px;top:8.6px;color:#000"><span style="letter-spacing:-0.243px">As a user, I want the app to</span><br><span style="letter-spacing:-0.124px">quickly recognize and add</span><br><span style="letter-spacing:0.126px">nutrition information from</span></p><div class="thumb" style="height:58px"></div></div><div class="pill" style="left:10px;top:100px"></div><svg class="a" style="left:14px;top:144px" width="24" height="24"><use href="#iTask"/></svg><div class="key" style="left:42px;top:141px;width:79px"><span style="letter-spacing:1.1px;margin-right:-1.1px">HT-120</span></div><div class="badge todo" style="left:132px;top:141px"><span style="margin-left:9px;letter-spacing:-.6px">TO DO</span></div><svg class="a" style="left:217px;top:138px" width="36" height="36"><use href="#avD"/></svg><svg class="a" style="left:271px;top:145.5px" width="21" height="21"><use href="#iHier"/></svg><div class="prio" style="left:309px;top:138px"></div></div>
<div class="card" style="left:2360px;top:989px"><div class="bar-l" style="background:#448AF7"></div><div class="ctext"><p style="left:13px;top:8.6px;color:#000"><span style="letter-spacing:-0.06px">Receive notifications for</span><br><span style="letter-spacing:0.012px">achieving activity milestones</span></p></div><div class="prio" style="left:10px;top:95px"></div><div class="pill" style="left:58px;top:98px"></div><svg class="a" style="left:14px;top:144px" width="24" height="24"><use href="#iTask"/></svg><div class="key" style="left:42px;top:141px;width:79px"><span style="letter-spacing:2.2px;margin-right:-2.2px">PHT-54</span></div><div class="badge prog" style="left:132px;top:141px"><span style="margin-left:8px;letter-spacing:-.58px">IN PROGR...</span></div><svg class="a" style="left:272px;top:138px" width="36" height="36"><use href="#avB"/></svg><svg class="a" style="left:325px;top:145.5px" width="21" height="21"><use href="#iHier"/></svg></div>
<div class="card" style="left:2780px;top:989px"><div class="bar-l" style="background:#448AF7"></div><div class="ctext"><p style="left:13px;top:8.6px;color:#000"><span style="letter-spacing:-0.25px">Receive activity</span><br><span style="letter-spacing:-0.25px">reminders</span></p></div><div class="prio" style="left:10px;top:95px"></div><div class="pill" style="left:58px;top:98px"></div><svg class="a" style="left:14px;top:144px" width="24" height="24"><use href="#iTask"/></svg><div class="key" style="left:42px;top:141px;width:79px"><span style="letter-spacing:2.2px;margin-right:-2.2px">PHT-56</span></div><div class="badge prog" style="left:132px;top:141px"><span style="margin-left:8px;letter-spacing:-.58px">IN PROGR...</span></div><svg class="a" style="left:272px;top:138px" width="36" height="36"><use href="#avB"/></svg><svg class="a" style="left:325px;top:145.5px" width="21" height="21"><use href="#iHier"/></svg></div>
<div class="card" style="left:260px;top:1209px"><div class="bar-l" style="background:#72C13F"></div><div class="ctext"><p style="left:13px;top:8.6px;color:#000"><span style="letter-spacing:-0.101px">Scan barcode for food items</span></p></div><div class="pill" style="left:10px;top:100px"></div><svg class="a" style="left:14px;top:144px" width="24" height="24"><use href="#iTask"/></svg><div class="key" style="left:42px;top:141px;width:79px"><span style="letter-spacing:0.64px;margin-right:-0.64px">PHT-31</span></div><div class="badge todo" style="left:132px;top:141px"><span style="margin-left:9px;letter-spacing:-.6px">TO DO</span></div><svg class="a" style="left:217px;top:138px" width="36" height="36"><use href="#avD"/></svg><svg class="a" style="left:271px;top:145.5px" width="21" height="21"><use href="#iHier"/></svg><div class="prio" style="left:309px;top:138px"></div></div>
<div class="card" style="left:680px;top:1209px"><div class="bar-l" style="background:#72C13F"></div><div class="ctext"><p style="left:13px;top:8.6px;color:#000"><span style="letter-spacing:-0.144px">Receive macronutrient ratio</span><br><span style="letter-spacing:-0.034px">insights</span></p></div><div class="pill" style="left:10px;top:100px"></div><svg class="a" style="left:14px;top:144px" width="24" height="24"><use href="#iTask"/></svg><div class="key" style="left:42px;top:141px;width:79px"><span style="letter-spacing:2.2px;margin-right:-2.2px">PHT-82</span></div><div class="badge todo" style="left:132px;top:141px"><span style="margin-left:9px;letter-spacing:-.6px">TO DO</span></div><svg class="a" style="left:217px;top:138px" width="36" height="36"><use href="#avD"/></svg><svg class="a" style="left:271px;top:145.5px" width="21" height="21"><use href="#iHier"/></svg><div class="prio" style="left:309px;top:138px"></div></div>
<div class="card" style="left:1100px;top:1209px"><div class="bar-l" style="background:#72C13F"></div><div class="ctext"><p style="left:13px;top:8.6px;color:#000"><span style="letter-spacing:-0.438px">As a user, I want to have a</span><br><span style="letter-spacing:0.136px">built-in food database to</span><br><span style="letter-spacing:-0.18px">easily search and select the</span></p><div class="thumb" style="height:57px"></div></div><div class="pill" style="left:10px;top:100px"></div><svg class="a" style="left:14px;top:144px" width="24" height="24"><use href="#iTask"/></svg><div class="key" style="left:42px;top:141px;width:79px"><span style="letter-spacing:1.1px;margin-right:-1.1px">HT-114</span></div><div class="badge todo" style="left:132px;top:141px"><span style="margin-left:9px;letter-spacing:-.6px">TO DO</span></div><svg class="a" style="left:217px;top:138px" width="36" height="36"><use href="#avD"/></svg><svg class="a" style="left:271px;top:145.5px" width="21" height="21"><use href="#iHier"/></svg><div class="prio" style="left:309px;top:138px"></div></div>
<div class="card" style="left:1940px;top:1209px"><div class="bar-l" style="background:#5B21F2"></div><div class="ctext"><p style="left:13px;top:8.6px;color:#000"><span style="letter-spacing:-0.195px">Calculate and display the</span><br><span style="letter-spacing:-0.16px">nutritional value of a meal</span><br><span style="letter-spacing:-0.584px">based on scanned items.</span></p><div class="thumb" style="height:77px"></div></div><div class="prio" style="left:10px;top:95px"></div><div class="pill" style="left:58px;top:98px"></div><svg class="a" style="left:14px;top:144px" width="24" height="24"><use href="#iTask"/></svg><div class="key" style="left:42px;top:141px;width:79px"><span style="letter-spacing:1.1px;margin-right:-1.1px">HT-118</span></div><div class="badge prog" style="left:132px;top:141px"><span style="margin-left:8px;letter-spacing:-.58px">IN PROGR...</span></div><svg class="a" style="left:272px;top:138px" width="36" height="36"><use href="#avB"/></svg><svg class="a" style="left:325px;top:145.5px" width="21" height="21"><use href="#iHier"/></svg></div>
<div class="card" style="left:680px;top:1429px"><div class="bar-l" style="background:#72C13F"></div><div class="ctext"><p style="left:13px;top:8.6px;color:#000"><span style="letter-spacing:-0.144px">Track fat intake</span></p></div><div class="pill" style="left:10px;top:100px"></div><svg class="a" style="left:14px;top:144px" width="24" height="24"><use href="#iTask"/></svg><div class="key" style="left:42px;top:141px;width:79px"><span style="letter-spacing:2.2px;margin-right:-2.2px">PHT-83</span></div><div class="badge todo" style="left:132px;top:141px"><span style="margin-left:9px;letter-spacing:-.6px">TO DO</span></div><svg class="a" style="left:217px;top:138px" width="36" height="36"><use href="#avD"/></svg><svg class="a" style="left:271px;top:145.5px" width="21" height="21"><use href="#iHier"/></svg><div class="prio" style="left:309px;top:138px"></div></div>
<div class="a" style="left:2864px;top:545px;width:16px;height:1133px;background:#F7F8FC"></div><div class="a" style="left:2864px;top:545px;width:16px;height:139px;border-radius:8px;background:#9E9E9E"></div>
<div class="a" style="left:2480px;top:1542px;width:340px;height:60px;border-radius:30px;background:#E5E5E6;overflow:hidden"><div class="a" style="left:100px;top:0;width:140px;height:60px;background:#EDEDEE"></div></div><div class="a" style="left:2525px;top:1574px;width:10px;height:3px;background:#172B4D"></div><div class="t" style="left:2610px;top:1557px;font-size:26px;font-weight:700;color:#172B4D;letter-spacing:1.25px;line-height:32px">100%</div><div class="a" style="left:2763px;top:1575px;width:15px;height:3px;background:#172B4D"></div><div class="a" style="left:2769px;top:1569px;width:3px;height:15px;background:#172B4D"></div>
</div>

<!-- ===== header ===== -->
<div id="hdr">
<svg class="a" style="left:46px;top:34px" width="36" height="32"><path d="M31 16H6M17 4.500L5.500 16 17 27.500" fill="none" stroke="#172B4D" stroke-width="4" stroke-linecap="round" stroke-linejoin="round"/></svg><svg class="a" style="left:112px;top:30px" width="40" height="40" viewBox="0 0 40 40"><rect width="40" height="40" rx="3.500" fill="#57C4E3"/><rect x="5.500" y="12" width="17" height="16" rx="1.500" fill="#4A3AA6"/><rect x="5.500" y="12" width="17" height="8" rx="1.500" fill="#5848B4"/><rect x="22" y="12" width="10.500" height="16" rx="1.500" fill="#EFA23A"/><rect x="22" y="12" width="10.500" height="8" rx="1.500" fill="#F5B945"/><rect x="32.500" y="16" width="2" height="8" rx=".8" fill="#fff"/><path d="M27.200 17.200v5.600M24.400 20h5.600" stroke="#4A3AA6" stroke-width="1.600"/></svg><div class="t" style="left:161px;top:33px;font-size:29px;line-height:36px;color:#44546F;letter-spacing:.23px;-webkit-text-stroke:.15px">Peaceful - Health Tr...</div><svg class="a" style="left:484px;top:30px" width="24" height="48"><path d="M18.500 4L6.500 44.500" stroke="#44546F" stroke-width="4.200" fill="none"/></svg><svg class="a" style="left:524px;top:32px" width="44" height="36"><rect x="4" y="4" width="36" height="28" rx="3.500" fill="none" stroke="#172B4D" stroke-width="4"/><path d="M16 4v28M28 4v28" stroke="#172B4D" stroke-width="4"/></svg><div class="t" style="left:579px;top:33px;font-size:29px;line-height:36px;color:#172B4D;letter-spacing:-.09px;-webkit-text-stroke:.15px">PHT board</div>
<svg class="a" style="left:1298px;top:32px" width="36" height="36"><path d="M4 12V7a3 3 0 0 1 3-3h5M24 4h5a3 3 0 0 1 3 3v5M32 24v5a3 3 0 0 1-3 3h-5M12 32H7a3 3 0 0 1-3-3v-5" fill="none" stroke="#172B4D" stroke-width="4" stroke-linecap="round"/></svg><div class="a" style="left:1364px;top:18px;width:334px;height:64px;border-radius:8px;background:#F1F2F4;overflow:hidden"><div class="a" style="left:0;top:0;width:172px;height:64px;background:#253858"></div></div><div class="t" style="left:1388.500px;top:33px;font-size:28px;line-height:36px;color:#fff;letter-spacing:-.57px;-webkit-text-stroke:.1px">Story map</div><div class="t" style="left:1560.500px;top:33px;font-size:27.500px;line-height:36px;color:#44546F;letter-spacing:-1.04px;-webkit-text-stroke:.1px">Roadmap</div>
<svg class="a" style="left:1722px;top:26px" width="48" height="48" viewBox="0 0 48 48"><g stroke="#4C9BF5" stroke-width="4.600" fill="none"><path d="M24 0v9.500M24 38.500v9.500M0 24h9.300M38.700 24h9.300"/></g><g stroke="#74C14C" stroke-width="5" fill="none"><path d="M8.500 9.500l7 5.600M39.500 9.500l-7 5.600M8.500 38.500l7-5.600M39.500 38.500l-7-5.600"/></g><path d="M17.500 27.500l-4-4L24 13.500l7 6.500" fill="none" stroke="#4C9BF5" stroke-width="4"/><path d="M24 19.500l4.300 4.300-4.300 4.300-4.300-4.300z" fill="#4C9BF5"/><path d="M20.500 29.500l3.800 3.800L35 22" fill="none" stroke="#6CC04A" stroke-width="3.800"/></svg><svg class="a" style="left:1812px;top:36px" width="28" height="28"><rect x="0" y="0" width="28" height="4" rx="2" fill="#172B4D"/><rect x="0" y="8" width="28" height="12" rx="3" fill="#172B4D"/><rect x="0" y="24" width="28" height="4" rx="2" fill="#172B4D"/></svg><svg class="a" style="left:1886px;top:30px" width="40" height="40"><circle cx="17" cy="16.800" r="13" fill="none" stroke="#172B4D" stroke-width="4"/><path d="M27 27l8.800 9" stroke="#172B4D" stroke-width="4.400" stroke-linecap="round"/></svg>
<svg class="a" style="left:1974px;top:31px" width="40" height="38" viewBox="0 0 40 38"><g fill="#172B4D"><circle cx="9.800" cy="6.600" r="6"/><circle cx="30.200" cy="6.600" r="6"/><rect x="0" y="15.200" width="15" height="15.400" rx="5.500"/><rect x="25" y="15.200" width="15" height="15.400" rx="5.500"/></g><circle cx="20" cy="13.200" r="6.400" fill="#172B4D" stroke="#fff" stroke-width="1.800"/><rect x="9.600" y="20.800" width="20.800" height="16" rx="6" fill="#172B4D" stroke="#fff" stroke-width="1.800"/></svg><div class="t" style="left:2027px;top:33px;font-size:29px;line-height:36px;color:#172B4D;letter-spacing:-.36px;-webkit-text-stroke:.15px">Personas</div><svg class="a" style="left:2210px;top:30px" width="36" height="40" viewBox="0 0 36 40"><rect x="2" y="4" width="32" height="19" rx="3" fill="none" stroke="#172B4D" stroke-width="4"/><path d="M12.500 14l3.500 3.500 7.200-7.600" fill="none" stroke="#172B4D" stroke-width="3.400"/><path d="M1.500 28h33l-2 4h-29zM4.500 34h27l-2.500 4h-22z" fill="#172B4D"/></svg><div class="t" style="left:2261px;top:33px;font-size:29px;line-height:36px;color:#172B4D;letter-spacing:-.36px;-webkit-text-stroke:.15px">Issues</div>
<svg class="a" style="left:2400px;top:30px" width="32" height="40"><path d="M10 15H6.500A2.500 2.500 0 0 0 4 17.500v16A2.500 2.500 0 0 0 6.500 36h19a2.500 2.500 0 0 0 2.500-2.500v-16a2.500 2.500 0 0 0-2.500-2.500H22" fill="none" stroke="#172B4D" stroke-width="3.800" stroke-linecap="round"/><path d="M16 26V5M10 10.500l6-6 6 6" fill="none" stroke="#172B4D" stroke-width="3.800" stroke-linecap="round" stroke-linejoin="round"/></svg><svg class="a" style="left:2476px;top:30px" width="40" height="40"><path d="M30 8.500L9 20l21 11.500" fill="none" stroke="#172B4D" stroke-width="3.800" stroke-linejoin="round"/><g fill="#fff" stroke="#172B4D" stroke-width="3.700"><circle cx="31.500" cy="8" r="4"/><circle cx="7.800" cy="20" r="4"/><circle cx="31.500" cy="32" r="4"/></g></svg><svg class="a" style="left:2556px;top:32px" width="40" height="36"><ellipse cx="19.800" cy="16.800" rx="16" ry="13" fill="none" stroke="#172B4D" stroke-width="3.800"/><path d="M26.500 28.500L35.600 33.800 33.500 25z" fill="#172B4D" stroke="#172B4D" stroke-width="1" stroke-linejoin="round"/><path d="M12.200 14h15.600M12.200 20h6.400" stroke="#172B4D" stroke-width="3.600" stroke-linecap="round"/></svg><svg class="a" style="left:2636px;top:34px" width="40" height="32"><rect x="4" y="4.300" width="31.700" height="23.700" rx="3" fill="none" stroke="#172B4D" stroke-width="4"/><rect x="4" y="4.300" width="31.700" height="10" fill="#172B4D"/><circle cx="7.800" cy="8.200" r="1.900" fill="#fff"/><path d="M14.500 8.200h18" stroke="#fff" stroke-width="4.200" stroke-linecap="round"/></svg><svg class="a" style="left:2727.500px;top:34px" width="18" height="32"><path d="M2.200 10.500a6.400 6.400 0 1 1 9.600 5.500c-2.400 1.500-3.300 2.600-3.300 5.400" fill="none" stroke="#172B4D" stroke-width="3.600" stroke-linecap="round"/><circle cx="8.500" cy="26.800" r="2.300" fill="#172B4D"/></svg><svg class="a" style="left:2800px;top:44px" width="32" height="14"><g fill="#172B4D"><circle cx="6.500" cy="7" r="3.100"/><circle cx="15.700" cy="7" r="3.100"/><circle cx="24.800" cy="7" r="3.100"/></g></svg>
</div>

<!-- ===== left column ===== -->
<div id="left">
<svg class="a" style="left:150px;top:120px" width="64" height="56" viewBox="0 0 64 56"><g fill="#44546F"><ellipse cx="25.500" cy="19.200" rx="7.700" ry="10"/><path d="M15.500 31.300C19 33.600 31 33.600 33.500 31.300L41 41.500v4.500C33 49.700 16 49.700 8 45.300 9 39 12 34 15.500 31.300z"/></g><path d="M34.200 32h21.500L47.200 41.300V50l-2.200 1.300L42 50v-8.700z" fill="#44546F" stroke="#F7F8FC" stroke-width="2.400" stroke-linejoin="round"/><path d="M34.200 32h21.500L47.200 41.300V50l-2.200 1.300L42 50v-8.700z" fill="#44546F"/><ellipse cx="44.900" cy="31.400" rx="10.600" ry="2.500" fill="#F7F8FC" stroke="#44546F" stroke-width="1.700"/><circle cx="51" cy="10.900" r="5.100" fill="#57BA37"/></svg><div class="a" style="left:20px;top:185px;width:199px;height:65px;border-radius:32.500px;background:#fff;box-shadow:0 5px 14px rgba(30,30,50,.12)"></div><div class="t" style="left:50.500px;top:200px;font-size:26.500px;line-height:36px;color:#494D60;letter-spacing:-.7px;-webkit-text-stroke:.1px">Goals</div><svg class="a" style="left:172px;top:211px" width="24" height="18"><use href="#iFilter"/></svg><div class="a" style="left:20px;top:365px;width:199px;height:65px;border-radius:32.500px;background:#fff;box-shadow:0 5px 14px rgba(30,30,50,.12)"></div><div class="t" style="left:50.500px;top:380px;font-size:27px;line-height:36px;color:#494D60;letter-spacing:-.26px;-webkit-text-stroke:.1px">Steps</div>
<div class="a" style="left:32px;top:575px;width:63px;height:48px;border-radius:24px;background:#F0F1F3"></div><div class="a" style="left:96px;top:575px;width:64px;height:48px;border-radius:24px;background:#F0F1F3"></div><svg class="a" style="left:54px;top:586px" width="20" height="26"><path d="M3 4l7 6.500L17 4M3 15.500l7 6.500 7-6.500" fill="none" stroke="#44546F" stroke-width="3.600" stroke-linecap="round" stroke-linejoin="round"/></svg><svg class="a" style="left:116px;top:590px" width="24" height="18"><use href="#iFilter"/></svg></div>
<div class="a" style="left:30px;top:664px;width:62px;height:42px;border-radius:21px;background:#F1F1F2"></div><svg class="a" style="left:50px;top:678px" width="22" height="16"><path d="M3 3.500l8 8 8-8" fill="none" stroke="#4A4E5E" stroke-width="3.200" stroke-linecap="round" stroke-linejoin="round"/></svg><svg class="a" style="left:106px;top:658px" width="48" height="48" viewBox="0 0 40 40"><rect width="40" height="40" rx="3.500" fill="#57C4E3"/><rect x="5.500" y="12" width="17" height="16" rx="1.500" fill="#4A3AA6"/><rect x="5.500" y="12" width="17" height="8" rx="1.500" fill="#5848B4"/><rect x="22" y="12" width="10.500" height="16" rx="1.500" fill="#EFA23A"/><rect x="22" y="12" width="10.500" height="8" rx="1.500" fill="#F5B945"/><rect x="32.500" y="16" width="2" height="8" rx=".8" fill="#fff"/><path d="M27.200 17.200v5.600M24.400 20h5.600" stroke="#4A3AA6" stroke-width="1.600"/></svg><svg class="a" style="left:170px;top:665px" width="44" height="32" viewBox="0 0 44 32"><g fill="none" stroke="#2B2B2B" stroke-width="3.400" stroke-linejoin="round"><path d="M3 17.500h38l-3.500 11h-31z"/><path d="M9 17V10.500h18V17"/><path d="M13.500 10V4.500h8.500V10"/></g></svg>

<!-- ===== persona dropdown ===== -->
<div id="dd" class="a" style="left:226px;top:106px;width:700px;height:804px;background:#fff;border-radius:7px 7px 0 0;box-shadow:0 4px 16px rgba(9,30,66,.25),0 0 0 1.500px #CDD2DB;overflow:hidden">
<div class="a" style="left:16px;top:16px;width:664px;height:76px;border:2px solid #7F899C;border-radius:6px;background:#fff"></div><div class="t" style="left:35px;top:38px;font-size:29px;line-height:36px;color:#626F86;letter-spacing:-.36px">Search persona</div><div class="cb" style="left:647px;top:43px"></div>
<div class="a" style="left:-1px;top:104px;width:685px;height:82px;background:#F4F5F7"></div><svg class="a" style="left:34px;top:134px" width="20" height="14"><path d="M3 3l7 7 7-7" fill="none" stroke="#5E6C84" stroke-width="3.600" stroke-linecap="round" stroke-linejoin="round"/></svg><svg class="a" style="left:77px;top:115px" width="50" height="50" viewBox="0 0 50 50"><g fill="none" stroke="#D6DEF0" stroke-width="2.600" stroke-linecap="round"><path d="M12 14c-3 3-4.500 6-5 10M38 14c3 3 4.500 6 5 10M19 37c4 1.500 8 1.500 12 0"/></g><circle cx="25" cy="5.500" r="4.500" fill="#F5B5A3"/><path d="M17 19c0-5.500 3-8 8-8s8 2.500 8 8z" fill="#5FBA6E"/><path d="M25 11c5 0 8 2.500 8 8h-8z" fill="#3F9E62"/><circle cx="9" cy="33.500" r="4.500" fill="#F5B5A3"/><path d="M1 47.500c0-5.500 3-8 8-8s8 2.500 8 8z" fill="#E53B3B"/><path d="M9 39.500c5 0 8 2.500 8 8H9z" fill="#C42222"/><circle cx="41" cy="33.500" r="4.500" fill="#F5B5A3"/><path d="M33 47.500c0-5.500 3-8 8-8s8 2.500 8 8z" fill="#7CC8F2"/><path d="M41 39.500c5 0 8 2.500 8 8h-8z" fill="#5B9BF0"/></svg><div class="t" style="left:137px;top:124px;font-size:29px;line-height:36px;font-weight:700;color:#5E6C84;letter-spacing:-.6px">Global</div><div class="cb" style="left:627px;top:128.5px"></div>
<svg class="a" style="left:82px;top:206px" width="48" height="48"><use href="#pLau"/></svg><div class="t" style="left:151px;top:212px;font-size:29px;line-height:36px;color:#172B4D;letter-spacing:-0.33px">Lauren T.</div><div class="cb" style="left:609.5px;top:217px"></div>
<svg class="a" style="left:82px;top:282px" width="48" height="48"><use href="#pSop"/></svg><div class="t" style="left:151px;top:288px;font-size:29px;line-height:36px;color:#172B4D;letter-spacing:-0.42px">Sophia Reynolds</div><div class="cb" style="left:609.5px;top:293px"></div>
<svg class="a" style="left:82px;top:358px" width="48" height="48"><use href="#pAxb"/></svg><div class="t" style="left:151px;top:364px;font-size:29px;line-height:36px;color:#172B4D;letter-spacing:-0.14px">Alexis Bennett</div><div class="cb" style="left:609.5px;top:369px"></div>
<div class="row" style="left:0;top:420px;width:684px;background:#D6E4FD;box-shadow:inset 0 0 0 2px #5B8FF5"><div class="a" style="left:2px;top:2px;width:4px;height:72px;background:#2C5FDB"></div></div><svg class="a" style="left:82px;top:434px" width="48" height="48"><use href="#pRyn"/></svg><div class="t" style="left:151px;top:440px;font-size:29px;line-height:36px;color:#172B4D;letter-spacing:-0.6px">Ryan Patel</div><div class="cb" style="left:609.5px;top:445px"></div>
<svg class="a" style="left:82px;top:510px" width="48" height="48"><use href="#pLau"/></svg><div class="t" style="left:151px;top:516px;font-size:29px;line-height:36px;color:#172B4D;letter-spacing:-0.22px">Lauren Thompson</div><div class="cb" style="left:609.5px;top:521px"></div>
<div class="row" style="left:0;top:572px;width:684px;background:#F1F5FD"><div class="a" style="left:1.500px;top:2px;width:4.500px;height:72px;background:#2C5FDB"></div></div><svg class="a" style="left:82px;top:586px" width="48" height="48"><use href="#pAlx"/></svg><div class="t" style="left:151px;top:592px;font-size:29px;line-height:36px;color:#292A2E;letter-spacing:-0.46px">Alexis</div><svg class="a" style="left:609.5px;top:597px" width="26" height="26"><rect width="26" height="26" rx="5.500" fill="#2C5FDB"/><path d="M6.500 13.500l4.300 4.300L19.500 8.500" fill="none" stroke="#fff" stroke-width="3.400" stroke-linecap="round" stroke-linejoin="round"/></svg>
<div class="row" style="left:0;top:648px;width:684px;background:#F1F5FD"><div class="a" style="left:1.500px;top:2px;width:4.500px;height:72px;background:#2C5FDB"></div></div><svg class="a" style="left:82px;top:662px" width="48" height="48"><use href="#pJoe"/></svg><div class="t" style="left:151px;top:668px;font-size:29px;line-height:36px;color:#292A2E;letter-spacing:-0.12px">Joe Thompson</div><svg class="a" style="left:609.5px;top:673px" width="26" height="26"><rect width="26" height="26" rx="5.500" fill="#2C5FDB"/><path d="M6.500 13.500l4.300 4.300L19.500 8.500" fill="none" stroke="#fff" stroke-width="3.400" stroke-linecap="round" stroke-linejoin="round"/></svg>
<div class="row" style="left:0;top:724px;width:684px;background:#F1F5FD"><div class="a" style="left:1.500px;top:2px;width:4.500px;height:72px;background:#2C5FDB"></div></div><svg class="a" style="left:82px;top:738px" width="48" height="48"><use href="#pEmma"/></svg><div class="t" style="left:151px;top:744px;font-size:29px;line-height:36px;color:#292A2E;letter-spacing:-0.57px">Emma Johnson</div><svg class="a" style="left:609.5px;top:749px" width="26" height="26"><rect width="26" height="26" rx="5.500" fill="#2C5FDB"/><path d="M6.500 13.500l4.300 4.300L19.500 8.500" fill="none" stroke="#fff" stroke-width="3.400" stroke-linecap="round" stroke-linejoin="round"/></svg>
<div class="a" style="left:684px;top:118px;width:16px;height:424px;border-radius:8px;background:#9E9E9E"></div>
</div>

<!-- ===== annotation overlay ===== -->
<div class="a" style="left:218.700px;top:97.400px;width:692.500px;height:802.600px;border:6px solid #F0912F;border-radius:3.500px"></div><svg class="a" style="left:0;top:80px;filter:drop-shadow(0 2px 3px rgba(0,0,0,.13))" width="220" height="90"><path d="M26.500 14.200L113.200 41.800 119.300 30.300 148.600 61 105.800 65.800 110.300 53.600 25.500 16.200z" fill="#F0912F" stroke="#F0912F" stroke-width="2.600" stroke-linejoin="round"/></svg>

</body></html>
